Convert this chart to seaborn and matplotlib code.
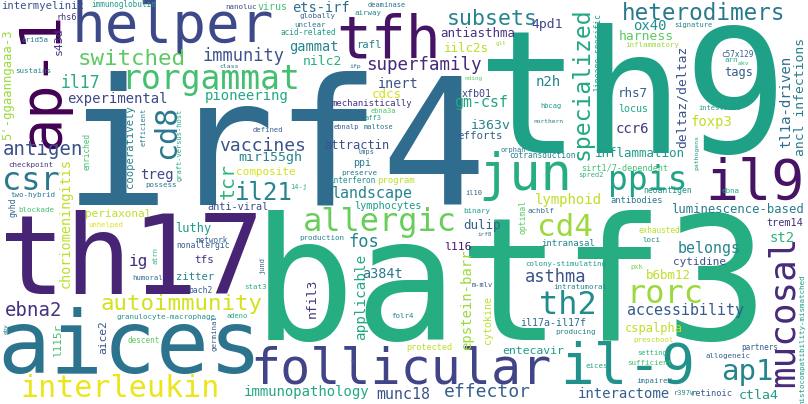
import matplotlib
matplotlib.use("Agg")
import matplotlib.pyplot as plt
import seaborn as sns

sns.set_theme(style="white")
plt.rcParams["font.family"] = ["DejaVu Sans Mono", "DejaVu Sans"]

# words of the cloud, ten per line
words = [
    "intermyelinic", "immunoglobulin", "rhs6", "ap-1", "5'-ggaanngaaa-3", "s43d", "arid5a", "sustains", "helper", "switched",
    "il17", "rorgammat", "experimental", "cd8", "cooperatively", "efficient", "graft-versus-host", "antigen", "enriched", "checkpoint",
    "csr", "two-hybrid", "blockade", "gvhd", "choriomeningitis", "periaxonal", "unhelped", "treg", "possess", "luthy",
    "irf4", "th17", "nonallergic", "network", "ig", "tfs", "zitter", "atrn", "humoral", "bach2",
    "autoimmunity", "ebna2", "granulocyte-macrophage", "adeno", "ebv", "aice2", "l115r", "descent", "aices", "interleukin",
    "anti-viral", "lymphocytes", "allergic", "fos", "production", "jund", "stat3", "nfil3", "applicable", "a384t",
    "folr4", "germinal", "batf3", "follicular", "il-9", "immunopathology", "munc18", "zi", "binary", "achblf",
    "optimal", "dulip", "irf8", "l116", "cd4", "intranasal", "colony-stimulating", "asthma", "intratumoral", "m-mlv",
    "th2", "epstein-barr", "cytokine", "il17a-il17f", "producing", "protected", "entecavir", "eices", "effector", "interactome",
    "antibodies", "luminescence-based", "trem14", "st2", "exhausted", "loci", "belongs", "mucosal", "cytidine", "pxk",
    "b6bm12", "histocompatibility-mismatched", "rorc", "accessibility", "cspalpha", "preschool", "partners", "setting", "allogeneic", "sufficient",
    "impaired", "r397w", "retinoic", "ctla4", "ap1", "subsets", "antiasthma", "4pd1", "specialized", "lineage-specific",
    "iilc2s", "glt", "superfamily", "inert", "cdcs", "n2h", "mechanistically", "nding", "xfb01", "gm-csf",
    "hbcag", "i363v", "northern", "efforts", "orphan", "cotransduction", "sirt1/7-dependent", "inflammation", "spred2", "jun",
    "lymphoid", "il10", "program", "vaccines", "mir155gh", "composite", "tcr", "il21", "14-j", "landscape",
    "attractin", "ppi", "preserve", "interferon", "ebnalp", "maltose", "aff3", "ebna3a", "defined", "pioneering",
    "class", "ifp", "immunity", "gammat", "nilc2", "rafl", "tfh", "th9", "heterodimers", "ox40",
    "signature", "harness", "inflammatory", "c57x129", "arn", "akv", "tags", "deltaz/deltaz", "tl1a-driven", "ancl infections",
    "rhs7", "locus", "intestinal", "foxp3", "ccr6", "pathogens", "ppis", "il9", "neoantigen", "ebna",
    "nanoluc", "virus", "ets-irf", "deaminase", "globally", "airway", "unclear", "acid-related", "lmps",
]

# word weight = font size in pixels
weights = [
    10.5, 7.7, 8.5, 57, 12.3, 11.5, 7.5, 7.5, 56, 22.5,
    16.5, 33, 14, 30, 10.5, 7, 7, 19, 7.7, 7.5,
    32, 7.5, 7.5, 8, 13.5, 11, 7.3, 14, 7.5, 12,
    176, 110, 8, 7.7, 16, 11, 10.5, 7, 7.3, 8,
    22.5, 19, 7.5, 7, 6, 11.3, 11, 7.6, 88, 30,
    10.3, 10.2, 32, 17, 7.5, 7, 7.5, 13, 14.3, 13.5,
    7.5, 7.5, 172, 50, 56, 14, 15, 6, 7.5, 7.5,
    8, 12.5, 6, 11.5, 31, 9, 7.4, 17, 7.5, 7,
    32, 14, 10, 10, 7.5, 8.5, 11.5, 7.5, 18, 14,
    8.8, 12.2, 10.3, 14, 7.8, 7.5, 15, 36, 11, 7,
    12.5, 7.5, 32, 15, 12, 7.4, 7.7, 7.1, 7.5, 7.5,
    7.5, 7, 8.7, 13.3, 29, 21.5, 12.5, 13, 23, 8,
    12.5, 6, 17.5, 13.5, 12.5, 14, 9, 6, 10, 15,
    7, 13.3, 6.3, 10.7, 7, 7.9, 8.5, 12.5, 7, 52,
    14, 7, 9, 18, 13.2, 11, 20, 24, 7, 15,
    12, 10, 7.5, 7.8, 7, 7, 7, 7, 7.3, 14,
    6.5, 6.5, 17, 13.6, 13, 10.5, 58, 172, 22.6, 14,
    7.2, 13, 7.4, 7.6, 7.5, 6.5, 12, 13, 14, 13,
    12.5, 10, 7.2, 14, 14, 6.5, 33, 55, 8, 7.5,
    7.5, 10, 13.6, 7, 7.5, 7.5, 7.5, 7.6, 7,
]

# colour of each word as a position on viridis
shades = [
    .25, .55, .15, .0, .85, .15, .4, .45, .22, .75,
    .62, .7, .22, .4, .45, .42, .6, .25, .7, .15,
    .4, .4, .7, .3, .9, .9, .95, .22, .4, .55,
    .35, .1, .3, .3, .12, .15, .45, .65, .35, .3,
    .93, .15, .5, .6, .45, .25, .7, .75, .38, .97,
    .25, .55, .77, .45, .45, .3, .65, .15, .6, .4,
    .45, .3, .62, .2, .5, .6, .25, .35, .55, .35,
    .75, .3, .35, .08, .85, .45, .55, .25, .45, .3,
    .48, .85, .9, .35, .45, .9, .55, .6, .3, .3,
    .4, .42, .15, .65, .9, .45, .45, .12, .25, .8,
    .9, .55, .85, .28, .9, .9, .3, .65, .3, .7,
    .4, .45, .28, .55, .45, .45, .15, .2, .6, .55,
    .9, .85, .12, .25, .93, .45, .15, .75, .2, .6,
    .55, .45, .4, .3, .4, .45, .7, .55, .65, .62,
    .9, .3, .9, .25, .45, .93, .65, .45, .65, .45,
    .25, .42, .4, .5, .3, .4, .6, .72, .3, .6,
    .35, .35, .25, .45, .62, .42, .05, .57, .4, .5,
    .45, .75, .85, .3, .6, .65, .3, .25, .35, .42,
    .3, .6, .55, .9, .15, .55, .58, .05, .5, .6,
    .22, .7, .35, .38, .3, .45, .38, .55, .35,
]

# layout: (x, y, vertical)
# horizontal words: x = centre, y = baseline; vertical words: x = baseline, y = centre
layout = [
    (43, 9, 0), (124, 7, 0), (67, 20, 0), (58, 80, 1), (11, 85, 1), (62, 41, 1), (35, 42, 0), (33, 73, 0), (173, 42, 0), (132, 65, 0),
    (80, 88, 0), (211, 89, 0), (117, 103, 0), (175, 132, 1), (133, 147, 1), (146, 127, 1), (182, 145, 1), (43, 155, 0), (89, 152, 1), (31, 167, 0),
    (31, 190, 0), (33, 197, 0), (36, 212, 0), (16, 207, 1), (70, 223, 1), (118, 217, 0), (106, 227, 0), (157, 179, 0), (161, 187, 0), (193, 232, 0),
    (276, 205, 0), (132, 294, 0), (203, 248, 0), (211, 243, 0), (138, 266, 0), (204, 263, 0), (195, 280, 0), (157, 255, 1), (148, 280, 0), (200, 293, 0),
    (181, 310, 0), (34, 316, 0), (166, 319, 0), (237, 318, 0), (8, 329, 1), (106, 337, 1), (61, 340, 1), (144, 343, 0), (130, 373, 0), (120, 397, 0),
    (238, 210, 0), (388, 209, 0), (380, 231, 0), (364, 247, 0), (322, 240, 0), (264, 265, 1), (255, 289, 0), (316, 298, 1), (365, 297, 1), (382, 278, 0),
    (403, 318, 0), (217, 333, 1), (511, 340, 0), (401, 383, 0), (628, 383, 0), (307, 396, 0), (403, 399, 0), (355, 360, 1), (477, 213, 0), (541, 213, 0),
    (526, 217, 1), (482, 229, 0), (485, 236, 0), (458, 250, 0), (565, 236, 0), (568, 246, 0), (566, 266, 0), (556, 282, 0), (580, 289, 0), (482, 287, 0),
    (568, 314, 0), (471, 300, 1), (491, 320, 1), (553, 326, 0), (575, 334, 0), (429, 350, 0), (533, 354, 0), (597, 368, 0), (487, 397, 0), (624, 398, 0),
    (637, 203, 0), (737, 213, 0), (785, 226, 0), (782, 242, 0), (659, 233, 0), (651, 242, 0), (709, 253, 0), (794, 311, 1), (699, 265, 0), (637, 269, 0),
    (668, 279, 0), (804, 340, 1), (665, 303, 0), (685, 315, 0), (654, 332, 0), (654, 342, 0), (760, 350, 0), (652, 355, 0), (728, 358, 0), (650, 365, 0),
    (654, 383, 0), (684, 395, 0), (712, 396, 0), (759, 399, 0), (747, 380, 0), (492, 25, 0), (478, 37, 0), (547, 28, 0), (589, 84, 1), (600, 52, 1),
    (466, 52, 0), (501, 45, 0), (424, 70, 0), (398, 88, 0), (387, 98, 0), (548, 86, 0), (372, 106, 0), (473, 80, 0), (477, 97, 0), (481, 107, 0),
    (551, 108, 0), (491, 129, 0), (548, 123, 0), (480, 139, 0), (513, 152, 0), (542, 158, 0), (625, 171, 0), (640, 157, 0), (591, 177, 0), (525, 190, 0),
    (568, 204, 0), (474, 195, 0), (396, 183, 0), (263, 151, 0), (270, 161, 0), (266, 175, 0), (234, 181, 1), (264, 200, 0), (299, 189, 0), (372, 198, 0),
    (357, 149, 0), (362, 166, 0), (359, 175, 0), (353, 183, 0), (346, 129, 0), (379, 129, 0), (373, 120, 0), (383, 113, 0), (268, 132, 0), (247, 100, 0),
    (229, 68, 0), (355, 68, 0), (243, 61, 0), (314, 51, 0), (322, 65, 0), (369, 48, 0), (389, 58, 0), (632, 153, 0), (704, 20, 0), (650, 30, 0),
    (693, 27, 0), (646, 40, 0), (652, 47, 0), (737, 57, 0), (731, 62, 0), (743, 65, 0), (739, 76, 0), (686, 97, 1), (790, 102, 1), (804, 97, 1),
    (633, 97, 0), (633, 112, 0), (720, 110, 0), (712, 126, 0), (632, 133, 0), (698, 153, 1), (648, 190, 0), (755, 199, 0), (668, 193, 0), (731, 193, 0),
    (241, 9, 0), (273, 10, 0), (321, 12, 0), (387, 7, 0), (317, 18, 0), (368, 15, 0), (310, 27, 0), (308, 35, 0), (366, 154, 0),
]

W, H = 808, 404
cmap = sns.color_palette("viridis", as_cmap=True)

fig = plt.figure(figsize=(W / 100, H / 100), dpi=100)
fig.patch.set_facecolor("white")
ax = fig.add_axes([0, 0, 1, 1])
ax.set_xlim(0, W)
ax.set_ylim(H, 0)
ax.axis("off")

# biggest words first so the small ones end up on top
order = sorted(range(len(words)), key=lambda i: -weights[i])
for i in order:
    x, y, vertical = layout[i]
    ax.text(x, y, words[i],
            fontsize=weights[i] * 0.72,
            color=cmap(shades[i]),
            ha="center", va="baseline",
            rotation=90 if vertical else 0,
            rotation_mode="anchor")

fig.savefig("out.png", dpi=100, facecolor="white")
